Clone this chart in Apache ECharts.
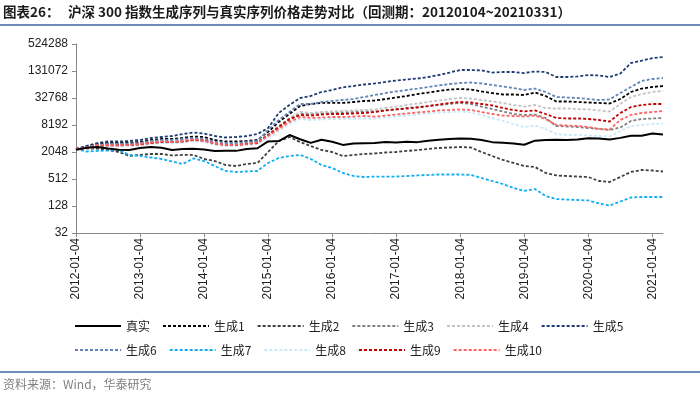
<!DOCTYPE html>
<html>
<head>
<meta charset="utf-8">
<script src="https://cdn.jsdelivr.net/npm/echarts@6/dist/echarts.min.js"></script>
<style>
html, body { margin: 0; padding: 0; background: #fff; }
#chart { width: 700px; height: 397px; }
</style>
</head>
<body>
<div id="chart"></div>
<script>
// bimonthly sample dates, 2012-01-04 .. 2021-03-31
const dates = [
  '2012-01-04', '2012-03-04', '2012-05-04', '2012-07-04', '2012-09-04', '2012-11-04',
  '2013-01-04', '2013-03-04', '2013-05-04', '2013-07-04', '2013-09-04', '2013-11-04',
  '2014-01-04', '2014-03-04', '2014-05-04', '2014-07-04', '2014-09-04', '2014-11-04',
  '2015-01-04', '2015-03-04', '2015-05-04', '2015-07-04', '2015-09-04', '2015-11-04',
  '2016-01-04', '2016-03-04', '2016-05-04', '2016-07-04', '2016-09-04', '2016-11-04',
  '2017-01-04', '2017-03-04', '2017-05-04', '2017-07-04', '2017-09-04', '2017-11-04',
  '2018-01-04', '2018-03-04', '2018-05-04', '2018-07-04', '2018-09-04', '2018-11-04',
  '2019-01-04', '2019-03-04', '2019-05-04', '2019-07-04', '2019-09-04', '2019-11-04',
  '2020-01-04', '2020-03-04', '2020-05-04', '2020-07-04', '2020-09-04', '2020-11-04',
  '2021-01-04', '2021-03-31'
]
const yTicks = [32, 128, 512, 2048, 8192, 32768, 131072, 524288]

const real = [2298, 2550, 2640, 2460, 2300, 2270, 2520, 2640, 2560, 2270, 2400, 2420,
  2320, 2160, 2170, 2170, 2380, 2480, 3530, 3600, 4900, 3950, 3270, 3830,
  3470, 2950, 3170, 3230, 3240, 3430, 3340, 3450, 3400, 3660, 3830, 4000,
  4090, 4020, 3790, 3400, 3300, 3160, 2970, 3670, 3780, 3850, 3800, 3900,
  4150, 4100, 3910, 4230, 4700, 4700, 5270, 5048]
const gen1 = [2390, 2720, 3090, 3250, 3250, 3330, 3420, 3790, 3990, 3990, 4200, 4540,
  4420, 3790, 3510, 3510, 3600, 3790, 5720, 9560, 14400, 21700, 24100, 25400,
  25400, 25400, 26700, 28100, 28800, 31100, 33600, 36300, 40200, 43400, 47000, 50700,
  52000, 50700, 45800, 42300, 39200, 39200, 38200, 43400, 36300, 27400, 27400, 26700,
  26000, 25400, 24700, 31100, 44600, 53300, 57700, 60700]
const gen2 = [2390, 2450, 2450, 2270, 2048, 1670, 1760, 1850, 1850, 1715, 1760, 1760,
  1430, 1290, 1050, 998, 1105, 1165, 2048, 3600, 4420, 3420, 2790, 2270,
  2048, 1670, 1760, 1850, 1900, 1995, 2048, 2160, 2270, 2390, 2515, 2580,
  2650, 2580, 2048, 1670, 1360, 1165, 998, 948, 698, 615, 597, 581,
  567, 462, 439, 567, 734, 813, 792, 753]
const gen3 = [2390, 2515, 2720, 2790, 2790, 2870, 2940, 3170, 3330, 3330, 3420, 3690,
  3600, 3090, 2870, 2870, 3010, 3170, 4900, 7390, 10590, 14400, 14400, 14800,
  15170, 15560, 15970, 16400, 16400, 17300, 18200, 19600, 20600, 21700, 22900, 24100,
  25400, 24100, 21100, 18600, 16400, 14400, 13700, 14000, 11740, 7780, 7580, 7390,
  7020, 6670, 6340, 7200, 10070, 11150, 11440, 11740]
const gen4 = [2390, 2580, 2870, 2940, 2940, 3010, 3090, 3330, 3510, 3510, 3600, 3890,
  3790, 3250, 3010, 3010, 3170, 3330, 5160, 7780, 11740, 15970, 15170, 15970,
  16400, 16800, 17300, 17700, 18200, 19600, 21100, 22900, 24700, 26700, 28800, 31100,
  32768, 31900, 29600, 27400, 25400, 22900, 21100, 22900, 19600, 19100, 19100, 18600,
  18200, 17300, 16400, 24100, 34500, 40200, 44600, 47000]
const gen5 = [2390, 2790, 3250, 3510, 3510, 3600, 3790, 4200, 4420, 4655, 5160, 5570,
  5290, 4655, 4310, 4420, 4655, 5160, 7020, 15170, 22900, 32768, 36300, 44600,
  49400, 56600, 60700, 65536, 69100, 74600, 80500, 84800, 89100, 96300, 106700, 121000,
  138000, 138000, 135000, 121000, 124500, 124500, 118000, 128000, 124500, 96300, 96300, 99000,
  106700, 104000, 96300, 115000, 198000, 222000, 254000, 269000]
const gen6 = [2390, 2650, 2940, 3090, 3090, 3170, 3250, 3600, 3790, 3790, 3990, 4200,
  3990, 3510, 3250, 3250, 3420, 3600, 6340, 10590, 15970, 24100, 24100, 26700,
  28100, 29600, 31100, 34500, 38200, 42300, 45800, 49400, 53300, 57700, 62300, 67200,
  70700, 72600, 69100, 63900, 59100, 54800, 49400, 53300, 44600, 34500, 33600, 32768,
  31100, 29600, 30400, 42300, 57700, 78500, 87000, 91500]
const gen7 = [2390, 2100, 2160, 2210, 2270, 1760, 1670, 1545, 1430, 1260, 1105, 1470,
  1290, 998, 773, 734, 753, 773, 1165, 1505, 1670, 1760, 1430, 1050,
  900, 698, 597, 567, 581, 581, 581, 597, 615, 630, 645, 645,
  645, 630, 539, 462, 396, 323, 277, 306, 214, 183, 178, 174,
  170, 146, 131, 161, 198, 203, 203, 203]
const gen8 = [2390, 2450, 2650, 2720, 2720, 2790, 2870, 3090, 3250, 3170, 3330, 3600,
  3420, 2940, 2790, 2790, 2940, 3090, 4200, 6020, 8620, 11150, 10590, 10880,
  11150, 11150, 11440, 11440, 11440, 12050, 12650, 13300, 14000, 14800, 15560, 15970,
  16400, 15560, 13700, 11740, 10070, 8620, 7390, 8000, 6670, 5160, 4900, 4900,
  4780, 4655, 4540, 6020, 7780, 8200, 8620, 8830]
const gen9 = [2390, 2515, 2790, 2870, 2870, 2940, 3010, 3250, 3420, 3420, 3510, 3790,
  3690, 3170, 2940, 2940, 3090, 3250, 4900, 7390, 11150, 13700, 13300, 14000,
  14400, 14400, 14800, 15170, 15970, 17300, 18200, 19100, 20100, 21700, 23500, 25400,
  26700, 26000, 24100, 22300, 19600, 17700, 16400, 17300, 14400, 11740, 11440, 11440,
  11150, 10590, 9810, 15170, 20600, 22900, 24100, 24100]
const gen10 = [2390, 2580, 2870, 2940, 2870, 2940, 3090, 3330, 3510, 3420, 3600, 3890,
  3690, 3170, 2940, 2940, 3090, 3330, 4655, 6670, 9560, 12350, 11740, 12050,
  12350, 12350, 12650, 13000, 12650, 13300, 14000, 14800, 15560, 16400, 17300, 17700,
  18200, 17700, 15970, 14400, 13300, 13000, 12650, 13300, 11150, 8200, 8000, 7780,
  7390, 6670, 6500, 10590, 13700, 15170, 15970, 16800]

const names = ['真实', '生成1', '生成2', '生成3', '生成4', '生成5', '生成6', '生成7', '生成8', '生成9', '生成10']
const seriesData = [real, gen1, gen2, gen3, gen4, gen5, gen6, gen7, gen8, gen9, gen10]
const colors = ['#000000', '#000000', '#404040', '#808080', '#c3c3c3', '#1f3b70',
  '#6484b8', '#10aef0', '#c9e9f8', '#c00000', '#ff6262']

const cjk = '"Noto Sans CJK SC", sans-serif'
const latin = '"Liberation Sans", Arial, sans-serif'

let mychart = echarts.init(document.getElementById('chart'))
mychart.setOption({
  animation: false,
  color: colors,
  grid: { left: 76, right: 37, top: 44, bottom: 164 },
  legend: {
    left: 74,
    top: 320,
    width: 570,
    padding: 0,
    itemWidth: 46,
    itemHeight: 12,
    itemGap: 12,
    data: names,
    itemStyle: { opacity: 0 }, //图例只要虚线，不要圆点
    textStyle: { fontFamily: cjk, fontSize: 12, color: '#222', width: 31 },
  },
  xAxis: {
    type: 'category',
    boundaryGap: false, //两端贴边
    data: dates,
    axisLine: { show: true, lineStyle: { color: '#888', width: 1 } },
    axisTick: { show: true, interval: 5, length: 4, lineStyle: { color: '#888' } },
    axisLabel: { interval: 5, rotate: 90, fontFamily: latin, fontSize: 12, color: '#222', margin: 5 },
    splitLine: { show: false },
  },
  yAxis: {
    type: 'log',
    logBase: 2,
    min: 32,
    max: 524288,
    axisLine: { show: true, lineStyle: { color: '#888', width: 1 } },
    axisTick: { show: true, length: 4, customValues: yTicks, lineStyle: { color: '#888' } },
    axisLabel: {
      customValues: yTicks,
      formatter: (v) => String(Math.round(v)),
      fontFamily: latin,
      fontSize: 12,
      color: '#222',
      margin: 8,
    },
    splitLine: { show: false },
  },
  series: seriesData.map((d, k) => ({
    name: names[k],
    type: 'line',
    data: d,
    showSymbol: false,
    symbol: 'none',
    lineStyle: {
      width: k === 0 ? 2 : 1.8,
      type: k === 0 ? 'solid' : [3, 2],
      color: colors[k],
    },
    z: k === 0 ? 3 : 2,
  })),
  graphic: [
    { type: 'text', left: 3, top: 5, style: { text: '图表26：', font: 'bold 13.5px ' + cjk, fill: '#1a1a1a' } },
    { type: 'text', left: 68, top: 5, style: { text: '沪深 300 指数生成序列与真实序列价格走势对比（回测期：20120104~20210331）', font: 'bold 13.5px ' + cjk, fill: '#1a1a1a' } },
    { type: 'rect', shape: { x: 0, y: 24, width: 700, height: 2 }, style: { fill: '#6f8db8' } },
    { type: 'rect', shape: { x: 0, y: 371, width: 700, height: 2 }, style: { fill: '#6f8db8' } },
    { type: 'text', left: 3, top: 378, style: { text: '资料来源：Wind，华泰研究', font: '12px ' + cjk, fill: '#808080' } },
  ],
})
</script>
</body>
</html>
